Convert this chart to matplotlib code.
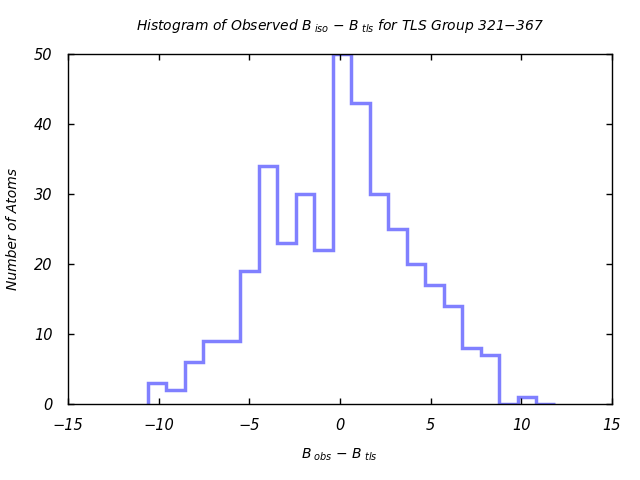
import matplotlib
matplotlib.use("Agg")
import matplotlib.pyplot as plt

# histogram data
bin_edges = [-10.59, -9.57, -8.55, -7.53, -6.51, -5.49, -4.47, -3.45, -2.43, -1.41,
             -0.39, 0.63, 1.65, 2.67, 3.69, 4.71, 5.73, 6.75, 7.77, 8.79,
             9.81, 10.83, 11.85]
counts = [3, 2, 6, 9, 9, 19, 34, 23, 30, 22,
          50, 43, 30, 25, 20, 17, 14, 8, 7, 0,
          1, 0]

xticks = [-15, -10, -5, 0, 5, 10, 15]
yticks = [0, 10, 20, 30, 40, 50]

plt.rcParams['font.family'] = 'DejaVu Sans'
plt.rcParams['font.style'] = 'italic'
plt.rcParams['mathtext.fontset'] = 'custom'
plt.rcParams['mathtext.rm'] = 'DejaVu Sans:italic'
plt.rcParams['mathtext.it'] = 'DejaVu Sans:italic'

fig = plt.figure(figsize=(6.4, 4.8), dpi=100)
ax = fig.add_axes([0.106, 0.158, 0.85, 0.7295])

ax.stairs(counts, bin_edges, baseline=0, color='#8080ff', linewidth=2.5)

ax.set_xlim(-15, 15)
ax.set_ylim(0, 50)
ax.set_xticks(xticks)
ax.set_yticks(yticks)
ax.tick_params(direction='in', length=4, width=1, top=True, right=True,
               labelsize=10.5)
ax.tick_params(axis='x', pad=10)
ax.tick_params(axis='y', pad=11)
for lab in ax.get_xticklabels() + ax.get_yticklabels():
    lab.set_fontstyle('italic')
for s in ax.spines.values():
    s.set_linewidth(1)

ax.set_title(r'Histogram of Observed $B_{\ iso}$ $-$ $B_{\ tls}$ for TLS Group 321$-$367',
             fontsize=10, style='italic', pad=17)
ax.set_xlabel(r'$B_{\ obs}$ $-$ $B_{\ tls}$', fontsize=10, style='italic', labelpad=10)
ax.set_ylabel('Number of Atoms', fontsize=10, style='italic', labelpad=10)

fig.savefig('out.png', dpi=100)
